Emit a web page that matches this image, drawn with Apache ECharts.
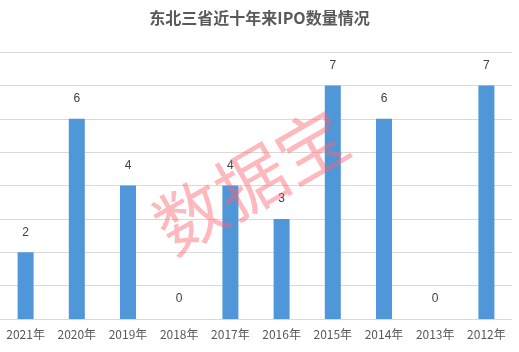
<!DOCTYPE html>
<html lang="zh">
<head>
    <meta charset="UTF-8">
    <title>IPO</title>
    <script src="https://cdn.jsdelivr.net/npm/echarts@6/dist/echarts.min.js"></script>
    <style>
        html, body { margin: 0; padding: 0; background: #fff; }
        #main { width: 519px; height: 352px; }
    </style>
</head>
<body>
<div id="main"></div>
<script>
    var years = ['2021年', '2020年', '2019年', '2018年', '2017年', '2016年', '2015年', '2014年', '2013年', '2012年'];
    var ipoCount = [2, 6, 4, 0, 4, 3, 7, 6, 0, 7];

    var myChart = echarts.init(document.getElementById('main'));
    myChart.setOption({
        animation: false,
        title: {
            text: '东北三省近十年来IPO数量情况',
            left: 'center',
            top: 5,
            textStyle: { fontFamily: 'Noto Sans CJK SC', fontSize: 16, fontWeight: 'bold', color: '#595959' }
        },
        grid: { left: -4, right: 7, top: 52, bottom: 33 },
        xAxis: {
            type: 'category',
            data: years,
            axisTick: { show: false },
            axisLine: { lineStyle: { color: '#d9d9d9' } },
            axisLabel: { color: '#595959', fontSize: 12, fontFamily: 'Noto Sans CJK SC', margin: 9, interval: 0 }
        },
        yAxis: {
            type: 'value',
            min: 0, max: 8, interval: 1,
            axisLabel: { show: false },
            axisLine: { show: false },
            splitLine: { lineStyle: { color: '#d9d9d9' } }
        },
        series: [{
            type: 'bar',
            data: ipoCount,
            barWidth: 16,
            itemStyle: { color: '#4f97d9' },
            label: { show: true, position: 'top', distance: 14, color: '#404040', fontSize: 12 }
        }],
        // 水印
        graphic: [{
            type: 'text',
            x: 251, y: 181,
            rotation: Math.PI / 6,
            z: 100,
            style: {
                text: '数据宝',
                font: 'normal 70px "Noto Sans CJK SC"',
                fill: 'rgba(252,100,110,0.45)',
                textAlign: 'center',
                textVerticalAlign: 'middle'
            }
        }]
    });
</script>
</body>
</html>
